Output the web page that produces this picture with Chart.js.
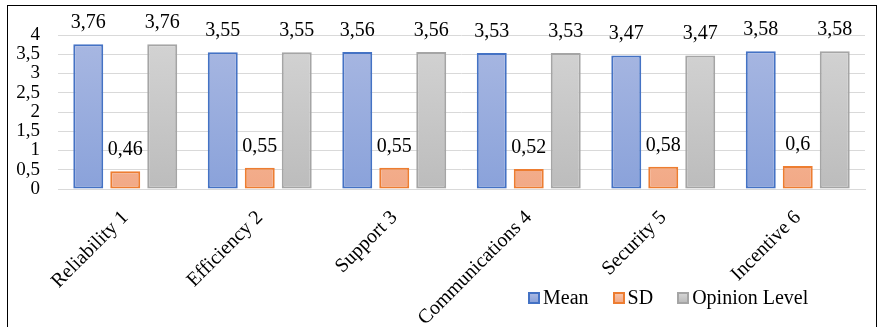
<!DOCTYPE html>
<html>
<head>
<meta charset="utf-8">
<script src="https://cdn.jsdelivr.net/npm/chart.js@4.4.0/dist/chart.umd.min.js"></script>
<style>
  html, body { margin: 0; padding: 0; background: #fff; }
  #wrap { position: relative; width: 879px; height: 327px; }
  #frame {
    position: absolute; left: 7px; top: 5px; width: 870px; height: 330px;
    border: 1.5px solid #000; box-sizing: border-box; pointer-events: none;
  }
  #legend {
    position: absolute; left: 528px; top: 286px;
    font-family: 'Liberation Serif', 'DejaVu Serif', serif; font-size: 20px; color: #000;
    display: flex; align-items: center; white-space: nowrap;
  }
  #legend .item { display: flex; align-items: center; margin-right: 24px; }
  #legend .box { width: 8px; height: 8px; border: 2px solid; margin-right: 3px; }
</style>
</head>
<body>
<div id="wrap">
  <canvas id="chart" width="879" height="327"></canvas>
  <div id="frame"></div>
  <div id="legend"></div>
</div>
<script>
// Categories and values
const categories = ['Reliability 1', 'Efficiency 2', 'Support 3', 'Communications 4', 'Security 5', 'Incentive 6'];
const meanValues = [3.76, 3.55, 3.56, 3.53, 3.47, 3.58];
const sdValues = [0.46, 0.55, 0.55, 0.52, 0.58, 0.6];
const opinionValues = [3.76, 3.55, 3.56, 3.53, 3.47, 3.58];
const yTicks = [0, 0.5, 1, 1.5, 2, 2.5, 3, 3.5, 4];

const serif = "'Liberation Serif', 'DejaVu Serif', serif";

// Colours for each series: border, gradient top, gradient bottom
const seriesStyle = {
  Mean: ['#4472c4', '#a9b8e2', '#8aa2da'],
  SD: ['#ed7d31', '#f7c3a8', '#f2a986'],
  'Opinion Level': ['#a5a5a5', '#d4d4d4', '#bcbcbc']
};

function gradientFor(name) {
  return function(ctx) {
    const chart = ctx.chart;
    const area = chart.chartArea;
    const s = seriesStyle[name];
    if (!area) return s[1];
    const g = chart.ctx.createLinearGradient(0, area.top, 0, area.bottom);
    g.addColorStop(0, s[1]);
    g.addColorStop(1, s[2]);
    return g;
  };
}

function fmt(v) {
  return String(v).replace('.', ',');
}

// Draw value labels above the bars
const valueLabels = {
  id: 'valueLabels',
  afterDatasetsDraw(chart) {
    const ctx = chart.ctx;
    ctx.save();
    ctx.font = '20px ' + serif;
    ctx.fillStyle = '#000';
    ctx.textAlign = 'center';
    ctx.textBaseline = 'alphabetic';
    chart.data.datasets.forEach((ds, i) => {
      chart.getDatasetMeta(i).data.forEach((bar, j) => {
        ctx.fillText(fmt(ds.data[j]), bar.x, bar.y - 16);
      });
    });
    ctx.restore();
  }
};

const names = ['Mean', 'SD', 'Opinion Level'];
const seriesData = [meanValues, sdValues, opinionValues];

const chart = new Chart(document.getElementById('chart'), {
  type: 'bar',
  data: {
    labels: categories,
    datasets: names.map((name, i) => ({
      label: name,
      data: seriesData[i],
      backgroundColor: gradientFor(name),
      borderColor: seriesStyle[name][0],
      borderWidth: 2,
      borderSkipped: false,
      categoryPercentage: 0.825,
      barPercentage: 0.81
    }))
  },
  options: {
    responsive: false,
    animation: false,
    layout: { padding: { top: 35, right: 14, left: 0, bottom: 0 } },
    plugins: {
      legend: { display: false },
      tooltip: { enabled: false }
    },
    scales: {
      x: {
        grid: { display: false, drawTicks: false },
        border: { display: true, color: '#d9d9d9', width: 1 },
        ticks: {
          color: '#000',
          font: { family: serif, size: 20 },
          minRotation: 45,
          maxRotation: 45,
          padding: 17,
          autoSkip: false
        },
        afterFit(scale) { scale.height = 138; }
      },
      y: {
        min: 0,
        max: 4,
        afterBuildTicks(scale) { scale.ticks = yTicks.map(v => ({ value: v })); },
        grid: { color: '#d9d9d9', drawTicks: false },
        border: { display: false },
        ticks: {
          color: '#000',
          font: { family: serif, size: 19 },
          padding: 18,
          autoSkip: false,
          callback: v => fmt(v)
        },
        afterFit(scale) { scale.width = 58; }
      }
    }
  },
  plugins: [valueLabels]
});

// Legend built from the chart's datasets
const legend = document.getElementById('legend');
chart.data.datasets.forEach(ds => {
  const s = seriesStyle[ds.label];
  const item = document.createElement('span');
  item.className = 'item';
  const box = document.createElement('span');
  box.className = 'box';
  box.style.borderColor = s[0];
  box.style.background = 'linear-gradient(' + s[1] + ',' + s[2] + ')';
  item.appendChild(box);
  item.appendChild(document.createTextNode(ds.label));
  legend.appendChild(item);
});
</script>
</body>
</html>
